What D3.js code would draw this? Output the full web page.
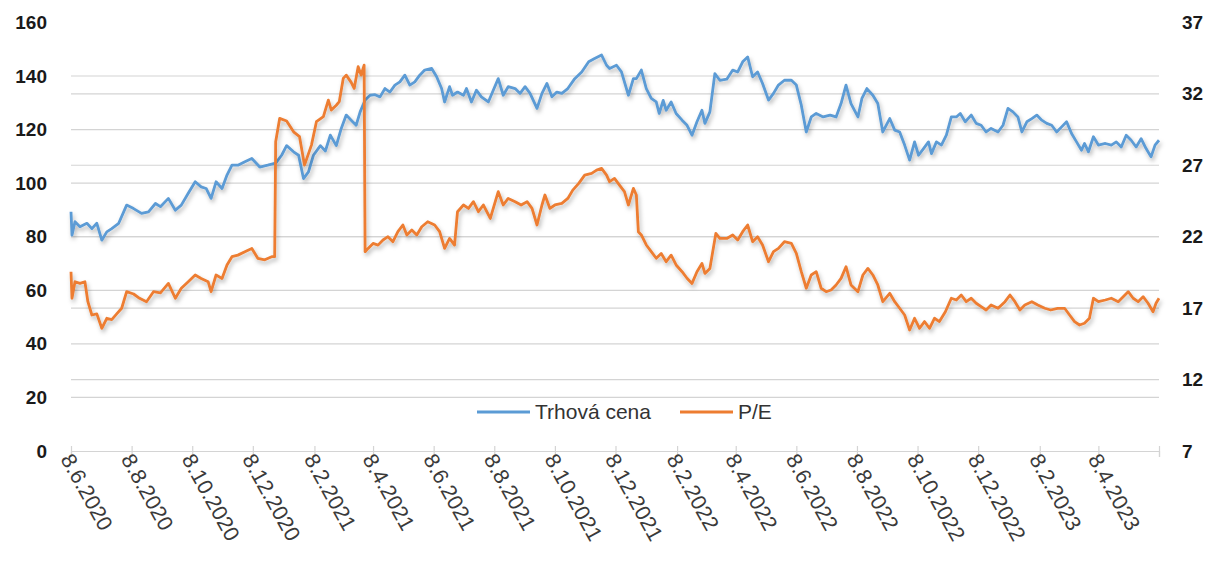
<!DOCTYPE html>
<html><head><meta charset="utf-8">
<script src="https://cdn.jsdelivr.net/npm/d3@7"></script>
<style>
html,body{margin:0;padding:0;background:#fff;}
svg{display:block;}
text{font-family:"Liberation Sans",Arial,sans-serif;}
</style></head>
<body><svg id="c" width="1222" height="561"></svg>
<script>
// ---- data ----
const priceDates = ["2020-06-08","2020-06-09","2020-06-12","2020-06-17","2020-06-24","2020-06-29","2020-07-04","2020-07-09","2020-07-14","2020-07-19","2020-07-26","2020-08-03","2020-08-10","2020-08-18","2020-08-25","2020-09-01","2020-09-06","2020-09-14","2020-09-21","2020-09-27","2020-10-04","2020-10-11","2020-10-17","2020-10-22","2020-10-27","2020-11-01","2020-11-07","2020-11-12","2020-11-17","2020-11-23","2020-11-30","2020-12-07","2020-12-15","2020-12-23","2020-12-31","2021-01-06","2021-01-11","2021-01-18","2021-01-23","2021-01-28","2021-02-02","2021-02-07","2021-02-14","2021-02-19","2021-02-24","2021-03-02","2021-03-07","2021-03-12","2021-03-17","2021-03-22","2021-03-26","2021-03-31","2021-04-05","2021-04-10","2021-04-15","2021-04-20","2021-04-25","2021-04-30","2021-05-05","2021-05-10","2021-05-15","2021-05-20","2021-05-25","2021-05-30","2021-06-06","2021-06-11","2021-06-16","2021-06-19","2021-06-24","2021-06-27","2021-07-02","2021-07-08","2021-07-11","2021-07-16","2021-07-21","2021-07-26","2021-08-02","2021-08-07","2021-08-12","2021-08-17","2021-08-22","2021-08-29","2021-09-03","2021-09-08","2021-09-13","2021-09-20","2021-09-25","2021-09-30","2021-10-05","2021-10-10","2021-10-15","2021-10-21","2021-10-28","2021-11-04","2021-11-11","2021-11-17","2021-11-24","2021-11-29","2021-12-02","2021-12-09","2021-12-14","2021-12-21","2021-12-26","2021-12-29","2022-01-03","2022-01-08","2022-01-13","2022-01-18","2022-01-21","2022-01-25","2022-01-28","2022-02-02","2022-02-07","2022-02-13","2022-02-18","2022-02-23","2022-02-28","2022-03-05","2022-03-08","2022-03-13","2022-03-18","2022-03-23","2022-03-30","2022-04-05","2022-04-10","2022-04-15","2022-04-20","2022-04-25","2022-04-30","2022-05-05","2022-05-11","2022-05-16","2022-05-21","2022-05-27","2022-06-03","2022-06-08","2022-06-13","2022-06-18","2022-06-23","2022-06-28","2022-07-05","2022-07-12","2022-07-18","2022-07-23","2022-07-28","2022-08-02","2022-08-09","2022-08-13","2022-08-18","2022-08-24","2022-08-29","2022-09-03","2022-09-10","2022-09-15","2022-09-20","2022-09-25","2022-09-30","2022-10-05","2022-10-09","2022-10-14","2022-10-19","2022-10-22","2022-10-27","2022-11-01","2022-11-06","2022-11-11","2022-11-16","2022-11-20","2022-11-25","2022-12-01","2022-12-06","2022-12-11","2022-12-16","2022-12-21","2022-12-28","2023-01-02","2023-01-07","2023-01-12","2023-01-17","2023-01-21","2023-01-26","2023-01-31","2023-02-05","2023-02-10","2023-02-15","2023-02-20","2023-02-25","2023-03-02","2023-03-07","2023-03-12","2023-03-17","2023-03-22","2023-03-25","2023-03-29","2023-04-03","2023-04-08","2023-04-15","2023-04-21","2023-04-26","2023-05-01","2023-05-06","2023-05-11","2023-05-16","2023-05-21","2023-05-26","2023-05-31","2023-06-04","2023-06-08"];
const priceValues = [89.3,80.6,85.6,83.7,85,83,85,78.7,81.8,83,85,91.8,90.5,88.7,89.3,92.4,91.2,94.3,89.9,91.8,96.2,100.5,98.6,98,94.3,100.5,98,103,106.7,106.7,108,109.2,106,106.7,107.5,110.4,114,111.7,110.4,101.7,104.2,110.4,114,112,117.9,114,120.4,125.4,123.5,121.6,126.6,131,132.8,133,132.2,135.3,134,136.6,137.8,140.3,136.6,137.8,140.3,142.2,142.8,139.7,135.3,130.3,136,132.8,134,132.8,135.3,130.3,134.7,132.2,130.3,134.7,139,132.8,136,135.3,133.5,136,133.5,127.9,133.5,137.2,132.2,134,133.5,135.3,139,141.5,145.3,146.5,147.8,144,142.8,144,141.5,132.8,139,139,142.2,135.3,131.6,130.3,126,130.9,127.2,130.3,126,123.5,121.6,117.9,122.9,127.2,122.3,126.6,140.9,138.4,138.8,142.2,141.5,145.3,147.1,139.7,141.5,137.2,131,133.5,136.6,138.4,138.4,136.6,129.1,119.1,124.7,126,124.7,125.4,124.7,129.7,136.6,129.7,124.7,131.6,135.3,132.8,129.7,119.1,124.1,119.8,119.1,114.2,108.6,115.4,110.4,112.9,115.4,111,115.4,114.2,117.9,124.7,124.7,126,122.9,125.4,122.3,121.6,119.1,120.4,119.1,121.6,127.9,126.6,124.7,119.1,122.9,124.1,125.4,123.5,122.3,121.6,119.1,121,122.9,118.5,115.4,112.3,114.8,111.7,117.3,114.2,114.8,114.2,115.4,113.5,117.9,116,113.5,116.6,112.9,109.8,114.2,116];

const peDates = ["2020-06-08","2020-06-09","2020-06-12","2020-06-17","2020-06-22","2020-06-25","2020-06-29","2020-07-04","2020-07-09","2020-07-14","2020-07-19","2020-07-24","2020-07-29","2020-08-03","2020-08-10","2020-08-16","2020-08-23","2020-08-30","2020-09-06","2020-09-14","2020-09-21","2020-09-27","2020-10-04","2020-10-11","2020-10-17","2020-10-24","2020-10-27","2020-11-01","2020-11-07","2020-11-12","2020-11-17","2020-11-23","2020-11-30","2020-12-07","2020-12-13","2020-12-20","2020-12-27","2020-12-30","2020-12-31","2021-01-04","2021-01-11","2021-01-18","2021-01-24","2021-01-29","2021-02-05","2021-02-10","2021-02-17","2021-02-22","2021-02-25","2021-03-02","2021-03-05","2021-03-09","2021-03-12","2021-03-17","2021-03-20","2021-03-24","2021-03-27","2021-03-30","2021-03-31","2021-04-03","2021-04-08","2021-04-13","2021-04-18","2021-04-23","2021-04-28","2021-05-03","2021-05-08","2021-05-12","2021-05-17","2021-05-22","2021-05-27","2021-06-02","2021-06-09","2021-06-14","2021-06-19","2021-06-24","2021-06-29","2021-07-02","2021-07-08","2021-07-13","2021-07-18","2021-07-23","2021-07-28","2021-08-04","2021-08-09","2021-08-12","2021-08-17","2021-08-22","2021-08-29","2021-09-04","2021-09-10","2021-09-15","2021-09-20","2021-09-25","2021-09-28","2021-10-03","2021-10-08","2021-10-15","2021-10-21","2021-10-26","2021-11-01","2021-11-07","2021-11-14","2021-11-19","2021-11-24","2021-11-29","2021-12-02","2021-12-07","2021-12-12","2021-12-17","2021-12-21","2021-12-26","2021-12-29","2021-12-31","2022-01-03","2022-01-08","2022-01-13","2022-01-18","2022-01-23","2022-01-28","2022-02-02","2022-02-07","2022-02-13","2022-02-18","2022-02-23","2022-02-28","2022-03-05","2022-03-08","2022-03-13","2022-03-19","2022-03-23","2022-03-30","2022-04-05","2022-04-10","2022-04-15","2022-04-20","2022-04-25","2022-04-30","2022-05-05","2022-05-11","2022-05-16","2022-05-21","2022-05-27","2022-06-03","2022-06-08","2022-06-13","2022-06-18","2022-06-23","2022-06-28","2022-07-03","2022-07-08","2022-07-13","2022-07-18","2022-07-23","2022-07-28","2022-08-02","2022-08-09","2022-08-14","2022-08-19","2022-08-24","2022-08-29","2022-09-03","2022-09-10","2022-09-15","2022-09-20","2022-09-25","2022-09-30","2022-10-05","2022-10-10","2022-10-15","2022-10-20","2022-10-25","2022-10-30","2022-11-05","2022-11-11","2022-11-16","2022-11-21","2022-11-26","2022-12-01","2022-12-06","2022-12-11","2022-12-16","2022-12-21","2022-12-28","2023-01-04","2023-01-09","2023-01-14","2023-01-19","2023-01-24","2023-01-31","2023-02-06","2023-02-13","2023-02-19","2023-02-26","2023-03-05","2023-03-10","2023-03-15","2023-03-20","2023-03-25","2023-03-30","2023-04-03","2023-04-08","2023-04-15","2023-04-21","2023-04-28","2023-05-03","2023-05-08","2023-05-13","2023-05-18","2023-05-23","2023-05-28","2023-06-02","2023-06-05","2023-06-08"];
const peValues = [19.55,17.69,18.85,18.73,18.85,17.45,16.52,16.6,15.59,16.29,16.2,16.6,16.99,18.15,17.99,17.69,17.45,18.15,18.07,18.73,17.69,18.39,18.85,19.32,19.08,18.85,18.15,19.32,19.08,20.02,20.6,20.71,20.95,21.18,20.49,20.38,20.6,20.6,28.65,30.28,30.1,29.34,29,27.01,28.41,30.05,30.4,31.56,30.86,31.2,31.45,33.08,33.31,32.8,32.38,33.9,33.31,34.01,20.95,21.18,21.53,21.41,21.77,22,21.65,22.35,22.82,22.12,22.47,22.12,22.7,23.05,22.82,22.35,21.18,21.88,21.41,23.75,24.22,23.98,24.45,23.75,24.22,23.28,24.45,25.15,24.22,24.68,24.45,24.22,24.45,23.98,22.82,24.22,24.92,23.98,24.22,24.33,24.68,25.26,25.73,26.31,26.43,26.66,26.78,26.31,25.85,26.08,25.61,25.15,24.22,25.38,24.92,22.35,22.12,21.42,20.95,20.49,20.83,20.25,20.71,20.02,19.55,19.09,18.73,19.55,20.13,19.43,19.78,22.23,21.88,21.88,22.12,21.77,22.35,22.82,21.65,22,21.42,20.25,20.95,21.18,21.65,21.53,20.83,19.55,18.39,19.32,19.55,18.39,18.15,18.27,18.62,19.08,19.9,18.62,18.15,19.32,19.78,19.32,18.62,17.45,18.04,17.45,16.99,16.52,15.47,16.29,15.59,16.06,15.59,16.29,16.06,16.75,17.69,17.57,17.92,17.45,17.69,17.34,17.1,16.87,17.22,16.99,17.45,17.92,17.45,16.87,17.22,17.45,17.22,16.99,16.87,16.99,16.99,16.52,16.06,15.82,15.94,16.29,17.69,17.45,17.57,17.69,17.45,17.8,18.15,17.69,17.45,17.8,17.34,16.75,17.34,17.69];

const seriesNames = ["Trhová cena", "P/E"];
const seriesColors = ["#5B9BD5", "#ED7D31"];
const leftTicks = [0,20,40,60,80,100,120,140,160];
const rightTicks = [7,12,17,22,27,32,37];
const xTickDates = ["2020-06-08","2020-08-08","2020-10-08","2020-12-08","2021-02-08","2021-04-08","2021-06-08","2021-08-08","2021-10-08","2021-12-08","2022-02-08","2022-04-08","2022-06-08","2022-08-08","2022-10-08","2022-12-08","2023-02-08","2023-04-08"];
const xStart = "2020-06-08", xEnd = "2023-06-08";

// ---- chart ----
const parse = d3.timeParse("%Y-%m-%d");
const fmt = d => `${d.getDate()}.${d.getMonth()+1}.${d.getFullYear()}`;
const svg = d3.select("#c");
const L = 71, R = 1159, B = 451, T = 22.4;
const x = d3.scaleTime().domain([parse(xStart), parse(xEnd)]).range([L, R]);
const yL = d3.scaleLinear().domain([0,160]).range([B, T]);
const yR = d3.scaleLinear().domain([7,37]).range([B, T]);

const defs = svg.append("defs");
const f = defs.append("filter").attr("id","sh").attr("x","-5%").attr("y","-20%").attr("width","110%").attr("height","140%");
f.append("feDropShadow").attr("dx",1.5).attr("dy",3).attr("stdDeviation",2).attr("flood-color","#000").attr("flood-opacity",0.28);

// gridlines
const grid = svg.append("g");
leftTicks.filter(v => v>0 && v<160).forEach(v => grid.append("line").attr("x1",L).attr("x2",R).attr("y1",yL(v)).attr("y2",yL(v)));
rightTicks.filter(v => v>7 && v<37).forEach(v => grid.append("line").attr("x1",L).attr("x2",R).attr("y1",yR(v)).attr("y2",yR(v)));
grid.selectAll("line").attr("stroke","#d4d4d4").attr("stroke-width",1.2);

// x axis
const xAxis = d3.axisBottom(x).tickValues(xTickDates.map(parse).concat([parse(xEnd)])).tickSize(6).tickFormat("");
const gx = svg.append("g").attr("transform",`translate(0,${B})`).call(xAxis);
gx.select(".domain").attr("stroke","#d4d4d4").attr("stroke-width",1.2);
gx.selectAll(".tick line").attr("stroke","#d4d4d4").attr("stroke-width",1.2).attr("y1",-5).attr("y2",6);
svg.append("g").selectAll("text").data(xTickDates.map(parse)).join("text")
  .attr("transform", d => `translate(${x(d)-11},${B+8}) rotate(61)`)
  .attr("font-size",21.5).attr("fill","#3a3a3a").text(fmt);

// y labels
const yAxisL = d3.axisLeft(yL).tickValues(leftTicks).tickSize(0).tickPadding(0);
const gyl = svg.append("g").attr("transform","translate(47,0)").call(yAxisL);
gyl.select(".domain").remove();
gyl.selectAll("text").attr("font-size",19).attr("font-weight","bold").attr("fill","#1a1a1a").attr("font-family","Liberation Sans, Arial, sans-serif");
const yAxisR = d3.axisRight(yR).tickValues(rightTicks).tickSize(0).tickPadding(0);
const gyr = svg.append("g").attr("transform","translate(1182,0)").call(yAxisR);
gyr.select(".domain").remove();
gyr.selectAll("text").attr("font-size",19).attr("font-weight","bold").attr("fill","#1a1a1a").attr("font-family","Liberation Sans, Arial, sans-serif");

// lines
const priceData = priceDates.map((d,i)=>({d:parse(d), v:priceValues[i]}));
const peData = peDates.map((d,i)=>({d:parse(d), v:peValues[i]}));
svg.append("path").datum(priceData).attr("fill","none").attr("stroke",seriesColors[0]).attr("stroke-width",2.8)
  .attr("stroke-linejoin","round").attr("filter","url(#sh)")
  .attr("d", d3.line().x(p=>x(p.d)).y(p=>yL(p.v)));
svg.append("path").datum(peData).attr("fill","none").attr("stroke",seriesColors[1]).attr("stroke-width",2.8)
  .attr("stroke-linejoin","round").attr("filter","url(#sh)")
  .attr("d", d3.line().x(p=>x(p.d)).y(p=>yR(p.v)));

// legend
const lg = svg.append("g");
const legendX = [477, 680];
seriesNames.forEach((n,i)=>{
  lg.append("line").attr("x1",legendX[i]).attr("x2",legendX[i]+53).attr("y1",412).attr("y2",412)
    .attr("stroke",seriesColors[i]).attr("stroke-width",2.8);
  lg.append("text").attr("x",legendX[i]+58).attr("y",419).attr("font-size",21).attr("fill","#333").text(n);
});
</script></body></html>
